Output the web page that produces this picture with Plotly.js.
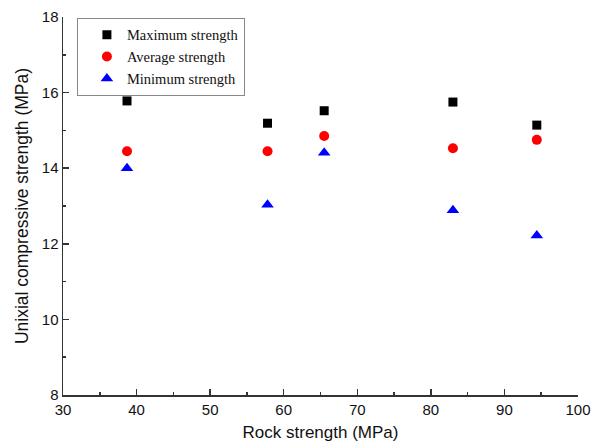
<!DOCTYPE html>
<html><head><meta charset="utf-8">
<script src="https://cdn.plot.ly/plotly-3.0.1.min.js"></script>
<style>html,body{margin:0;padding:0;background:#fff}#c{width:597px;height:444px}</style>
</head><body><div id="c"></div>
<script>
const rockStrength = [38.7, 57.8, 65.5, 83.0, 94.4];
const maxStrength = [15.78, 15.19, 15.52, 15.75, 15.14];
const avgStrength = [14.45, 14.45, 14.85, 14.53, 14.75];
const minStrength = [14.0, 13.03, 14.41, 12.89, 12.22];

const traces = [
  {x: rockStrength, y: maxStrength, name: 'Maximum strength', type: 'scatter', mode: 'markers',
   marker: {symbol: 'square', color: '#000', size: 9}},
  {x: rockStrength, y: avgStrength, name: 'Average strength', type: 'scatter', mode: 'markers',
   marker: {symbol: 'circle', color: '#ff0000', size: 10}},
  {x: rockStrength, y: minStrength, name: 'Minimum strength', type: 'scatter', mode: 'markers',
   marker: {symbol: 'triangle-up', color: '#0000ff', size: 11}}
];
const axisCommon = {showgrid: false, zeroline: false, showline: true, linecolor: '#333', linewidth: 1.5,
  ticks: 'inside', ticklen: 6, tickwidth: 1.5, tickcolor: '#333',
  tickfont: {family: 'Liberation Sans, Arial, sans-serif', size: 15, color: '#111'}};
const layout = {
  width: 597, height: 444, paper_bgcolor: '#fff', plot_bgcolor: '#fff',
  margin: {l: 63, r: 19, t: 17, b: 49},
  showlegend: true,
  legend: {x: 0.027, y: 0.998, xanchor: 'left', yanchor: 'top', bordercolor: '#888', borderwidth: 1,
    font: {family: 'Liberation Serif, Times New Roman, serif', size: 14.5, color: '#111'},
    itemwidth: 30, tracegroupgap: 0, indentation: 9},
  xaxis: Object.assign({}, axisCommon, {range: [30, 100], dtick: 10, tick0: 30,
    minor: {dtick: 5, ticks: 'inside', ticklen: 3, tickwidth: 1.5, tickcolor: '#333'},
    title: {text: 'Rock strength (MPa)', standoff: 9, font: {family: 'Liberation Sans, Arial, sans-serif', size: 17, color: '#111'}}}),
  yaxis: Object.assign({}, axisCommon, {range: [8, 18], dtick: 2, tick0: 8,
    minor: {dtick: 1, ticks: 'inside', ticklen: 3, tickwidth: 1.5, tickcolor: '#333'},
    title: {text: 'Unixial compressive strength (MPa)', standoff: 8, font: {family: 'Liberation Sans, Arial, sans-serif', size: 17.5, color: '#111'}}})
};
Plotly.newPlot('c', traces, layout, {displayModeBar: false, staticPlot: true});
</script></body></html>
